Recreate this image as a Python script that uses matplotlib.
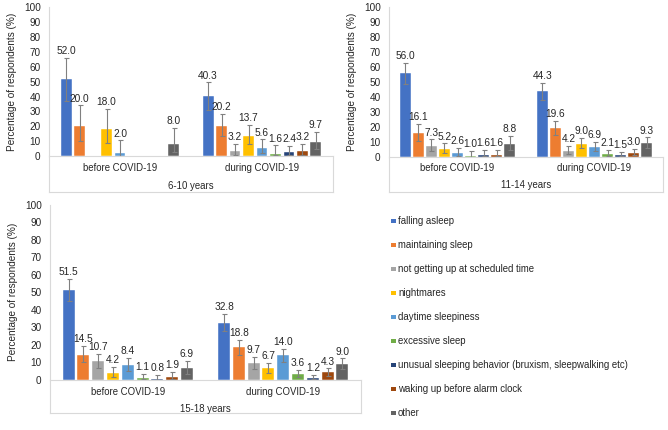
import numpy as np
import matplotlib
matplotlib.use("Agg")
import matplotlib.pyplot as plt
from matplotlib.patches import Rectangle
from matplotlib.lines import Line2D

plt.rcParams['font.family'] = ['Liberation Sans', 'DejaVu Sans']
plt.rcParams['font.size'] = 7

problems = ["falling asleep", "maintaining sleep", "not getting up at scheduled time",
            "nightmares", "daytime sleepiness", "excessive sleep",
            "unusual sleeping behavior (bruxism, sleepwalking etc)",
            "waking up before alarm clock", "other"]
colors = ["#4472C4", "#ED7D31", "#A5A5A5", "#FFC000", "#5B9BD5",
          "#70AD47", "#264478", "#9E480E", "#636363"]
periods = ["before COVID-19", "during COVID-19"]
age_groups = ["6-10 years", "11-14 years", "15-18 years"]

nan = np.nan
# values per age group: [before, during], 9 problems each (nan = not reported)
values_6_10 = [[52.0, 20.0, nan, 18.0, 2.0, nan, nan, nan, 8.0],
               [40.3, 20.2, 3.2, 13.7, 5.6, 1.6, 2.4, 3.2, 9.7]]
low_6_10 = [[37.0, 10.0, nan, 8.5, 0.0, nan, nan, nan, 3.0],
            [31.0, 13.5, 1.0, 8.0, 2.0, 0.4, 0.8, 1.0, 5.0]]
high_6_10 = [[66.0, 34.0, nan, 31.5, 10.5, nan, nan, nan, 19.0],
             [49.5, 28.5, 8.3, 21.0, 11.2, 7.2, 6.9, 8.0, 16.2]]

values_11_14 = [[56.0, 16.1, 7.3, 5.2, 2.6, 1.0, 1.6, 1.6, 8.8],
                [44.3, 19.6, 4.2, 9.0, 6.9, 2.1, 1.5, 3.0, 9.3]]
low_11_14 = [[48.5, 11.0, 3.8, 2.5, 1.0, 0.2, 0.5, 0.5, 4.8],
             [38.0, 14.5, 2.0, 6.0, 4.0, 0.8, 0.4, 1.3, 6.0]]
high_11_14 = [[62.8, 22.0, 11.8, 9.2, 6.0, 4.0, 4.7, 4.7, 14.0],
              [49.7, 24.3, 7.3, 12.7, 10.2, 5.0, 3.6, 5.6, 13.2]]

values_15_18 = [[51.5, 14.5, 10.7, 4.2, 8.4, 1.1, 0.8, 1.9, 6.9],
                [32.8, 18.8, 9.7, 6.7, 14.0, 3.6, 1.2, 4.3, 9.0]]
low_15_18 = [[44.9, 10.0, 6.8, 1.8, 5.0, 0.3, 0.2, 0.7, 3.6],
             [28.0, 14.5, 6.0, 4.0, 10.0, 1.8, 0.4, 2.2, 6.0]]
high_15_18 = [[57.8, 19.6, 15.0, 7.6, 12.5, 3.4, 2.9, 4.6, 10.8],
              [37.6, 23.0, 13.2, 9.7, 17.7, 5.7, 2.9, 6.7, 12.3]]

W, H = 668, 430
fig = plt.figure(figsize=(W / 100, H / 100), dpi=100)

line_col = "#d9d9d9"
text_col = "#262626"
fs = 6.9


def draw_panel(px_left, px_right, px_top, px_zero, px_cat, px_group, px_box,
               vals, lows, highs, group_label):
    h_px = px_zero - px_top
    ax = fig.add_axes([px_left / W, 1 - px_zero / H, (px_right - px_left) / W, h_px / H])
    slot = 0.095
    width = 0.077
    for i in range(len(problems)):
        xs, ys, el, eh = [], [], [], []
        for c in range(len(periods)):
            v = vals[c][i]
            if np.isnan(v):
                continue
            xs.append(c + (i - 4) * slot)
            ys.append(v)
            el.append(v - lows[c][i])
            eh.append(highs[c][i] - v)
        ax.bar(xs, ys, width, color=colors[i], edgecolor="white", linewidth=0.3,
               yerr=[el, eh], error_kw=dict(ecolor="#808080", elinewidth=0.8,
                                            capsize=1.8, capthick=0.8),
               zorder=2)
        for x, y, e in zip(xs, ys, eh):
            ax.annotate(f"{y:.1f}", (x, y + e), xytext=(0, 1.2), textcoords="offset points",
                        ha="center", va="bottom", fontsize=7.3, color=text_col)
    ax.set_xlim(-0.5, 1.5)
    ax.set_ylim(0, 100)
    ax.set_yticks(np.arange(0, 101, 10))
    ax.tick_params(axis="y", length=0, pad=6, labelsize=fs + 0.3, labelcolor=text_col)
    ax.set_xticks([])
    for s in ["top", "right"]:
        ax.spines[s].set_visible(False)
    ax.spines["left"].set_color(line_col)
    ax.spines["bottom"].set_color(line_col)
    ax.spines["left"].set_linewidth(0.8)
    ax.spines["bottom"].set_linewidth(0.8)
    ax.set_ylabel("Percentage of respondents (%)", fontsize=fs + 0.3, color=text_col, labelpad=5)

    def to_ax(py):
        return (px_zero - py) / h_px

    yb = to_ax(px_box)
    for seg in [([0, 0], [0, yb]), ([1, 1], [0, yb]), ([0, 1], [yb, yb])]:
        ax.add_line(Line2D(seg[0], seg[1], transform=ax.transAxes, color=line_col,
                           lw=0.8, clip_on=False))
    for c, p in enumerate(periods):
        ax.text((c + 0.5) / 2, to_ax(px_cat), p, transform=ax.transAxes,
                ha="center", va="center", fontsize=fs, color=text_col)
    ax.text(0.5, to_ax(px_group), group_label, transform=ax.transAxes,
            ha="center", va="center", fontsize=fs, color=text_col)
    return ax


draw_panel(49, 333, 7.3, 156, 168, 186, 192,
           values_6_10, low_6_10, high_6_10, age_groups[0])
draw_panel(389, 663, 7.3, 157, 168, 185, 192,
           values_11_14, low_11_14, high_11_14, age_groups[1])
draw_panel(50, 361, 204.7, 380, 392, 409, 413,
           values_15_18, low_15_18, high_15_18, age_groups[2])

# legend
for i, (name, col) in enumerate(zip(problems, colors)):
    y = 221 + 24 * i
    fig.add_artist(Rectangle((391 / W, 1 - (y + 2.2) / H), 4.5 / W, 4.5 / H,
                             transform=fig.transFigure, color=col, lw=0))
    fig.text(398 / W, 1 - y / H, name, ha="left", va="center", fontsize=fs, color=text_col)

fig.savefig("out.png", dpi=100)
